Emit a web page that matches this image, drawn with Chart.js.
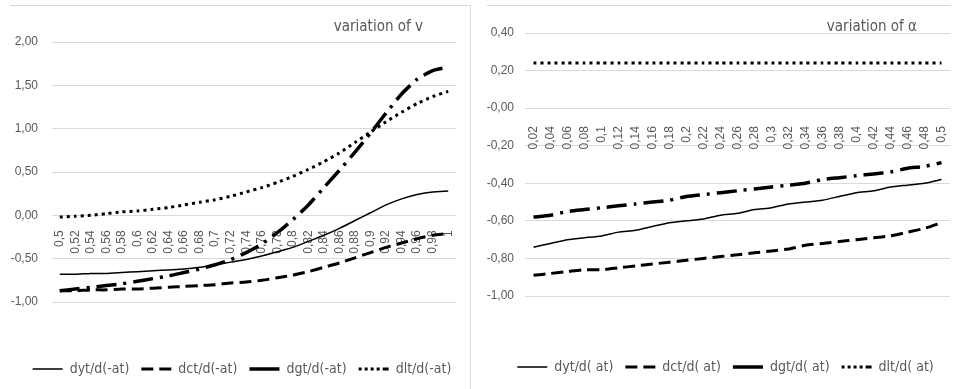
<!DOCTYPE html>
<html>
<head>
<meta charset="utf-8">
<script src="https://cdn.jsdelivr.net/npm/chart.js@4"></script>
<style>
  body { margin: 0; background: #fff; width: 954px; height: 389px; overflow: hidden; position: relative; }
  .frame { position: absolute; border-top: 1px solid #d9d9d9; }
  canvas { position: absolute; top: 0; }
</style>
</head>
<body>
<div class="frame" style="left:10px; top:5px; width:460px; height:384px; border-right:1px solid #d9d9d9;"></div>
<div class="frame" style="left:487px; top:5px; width:464px; height:384px;"></div>
<canvas id="chartV" width="477" height="389" style="left:0"></canvas>
<canvas id="chartA" width="477" height="389" style="left:477px"></canvas>
<script>
// left chart: variation of v
let vLabels = ["0,5","0,52","0,54","0,56","0,58","0,6","0,62","0,64","0,66","0,68","0,7","0,72","0,74",
               "0,76","0,78","0,8","0,82","0,84","0,86","0,88","0,9","0,92","0,94","0,96","0,98","1"];
let vDyt = [-0.68,-0.68,-0.67,-0.67,-0.66,-0.65,-0.64,-0.63,-0.62,-0.60,-0.57,-0.54,-0.51,
            -0.47,-0.42,-0.37,-0.30,-0.23,-0.15,-0.06,0.03,0.12,0.19,0.24,0.27,0.28];
let vDct = [-0.87,-0.87,-0.86,-0.86,-0.85,-0.85,-0.84,-0.83,-0.82,-0.81,-0.80,-0.78,-0.77,
            -0.75,-0.72,-0.69,-0.65,-0.60,-0.55,-0.49,-0.43,-0.37,-0.32,-0.27,-0.23,-0.21];
let vDgt = [-0.87,-0.85,-0.83,-0.81,-0.79,-0.76,-0.73,-0.70,-0.66,-0.62,-0.57,-0.51,-0.43,
            -0.33,-0.20,-0.05,0.12,0.32,0.52,0.73,0.95,1.18,1.40,1.57,1.67,1.71];
let vDlt = [-0.02,-0.01,0.00,0.02,0.04,0.05,0.07,0.09,0.12,0.15,0.18,0.22,0.27,
            0.32,0.38,0.45,0.53,0.62,0.72,0.84,0.96,1.08,1.19,1.29,1.37,1.43];
let vNames = ["dyt/d(-at)", "dct/d(-at)", "dgt/d(-at)", "dlt/d(-at)"];

// right chart: variation of alpha
let aLabels = ["0,02","0,04","0,06","0,08","0,1","0,12","0,14","0,16","0,18","0,2","0,22","0,24","0,26",
               "0,28","0,3","0,32","0,34","0,36","0,38","0,4","0,42","0,44","0,46","0,48","0,5"];
let aDyt = [-0.74,-0.72,-0.70,-0.69,-0.68,-0.66,-0.65,-0.63,-0.61,-0.60,-0.59,-0.57,-0.56,
            -0.54,-0.53,-0.51,-0.50,-0.49,-0.47,-0.45,-0.44,-0.42,-0.41,-0.40,-0.38];
let aDct = [-0.89,-0.88,-0.87,-0.86,-0.86,-0.85,-0.84,-0.83,-0.82,-0.81,-0.80,-0.79,-0.78,
            -0.77,-0.76,-0.75,-0.73,-0.72,-0.71,-0.70,-0.69,-0.68,-0.66,-0.64,-0.61];
let aDgt = [-0.58,-0.57,-0.55,-0.54,-0.53,-0.52,-0.51,-0.50,-0.49,-0.47,-0.46,-0.45,-0.44,
            -0.43,-0.42,-0.41,-0.40,-0.38,-0.37,-0.36,-0.35,-0.34,-0.32,-0.31,-0.29];
let aDlt = [0.24,0.24,0.24,0.24,0.24,0.24,0.24,0.24,0.24,0.24,0.24,0.24,0.24,
            0.24,0.24,0.24,0.24,0.24,0.24,0.24,0.24,0.24,0.24,0.24,0.24];
let aNames = ["dyt/d( at)", "dct/d( at)", "dgt/d( at)", "dlt/d( at)"];

const NARROW = "'Liberation Sans Narrow', 'DejaVu Sans Condensed', sans-serif";
const TICKFONT = "'Liberation Sans', Arial, sans-serif";
const GREY = "#595959";

// line styles: solid, dashed, dash-dot, dotted
let lineWidths = [1.5, 3, 3.5, 3];
let lineDashes = [[], [12, 6], [20, 7, 3, 7], [3, 4]];
// legend samples are stroked as a flat rect (there and back), so pattern covers 30px then stays off
let legendDashes = [[], [12, 6, 12, 30], [], [3, 3, 3, 3, 3, 3, 3, 3, 3, 3, 3, 33]];

function makeDatasets(names, series) {
    return names.map((n, i) => ({
        label: n,
        data: series[i],
        borderColor: "#000",
        backgroundColor: "#000",
        borderWidth: lineWidths[i],
        borderDash: lineDashes[i],
        borderCapStyle: "butt",
        pointRadius: 0,
        tension: 0.2,
        fill: false
    }));
}

// title text near the top right of the plot, legend nudged sideways
function extrasPlugin(text, dx, y, legendShift) {
    return {
        id: "extras",
        afterLayout(chart) {
            chart.legend.left += legendShift;
            chart.legend.right += legendShift;
        },
        afterDraw(chart) {
            let c = chart.ctx;
            c.save();
            c.font = "15px " + NARROW;
            c.fillStyle = GREY;
            c.textAlign = "right";
            c.textBaseline = "middle";
            c.fillText(text, chart.chartArea.right - dx, y);
            c.restore();
        }
    };
}

function makeChart(id, labels, datasets, yMin, yMax, step, yWidth, tickPad, xPad, top, right, gap, padBottom, title, legendShift) {
    return new Chart(document.getElementById(id).getContext("2d"), {
        type: "line",
        data: { labels: labels, datasets: datasets },
        plugins: [extrasPlugin(title, 33, 27, legendShift)],
        options: {
            responsive: false,
            maintainAspectRatio: false,
            animation: false,
            layout: { padding: { top: top, right: right, bottom: padBottom, left: 0 } },
            plugins: {
                title: { display: false },
                tooltip: { enabled: false },
                legend: {
                    position: "bottom",
                    labels: {
                        boxWidth: 30,
                        boxHeight: 0,
                        padding: 12,
                        color: GREY,
                        font: { size: 14, family: NARROW },
                        generateLabels: chart => {
                            let items = Chart.defaults.plugins.legend.labels.generateLabels(chart);
                            items.forEach((it, i) => { it.lineDash = legendDashes[i]; });
                            return items;
                        }
                    }
                }
            },
            scales: {
                x: {
                    position: { y: 0 },
                    offset: true,
                    grid: { display: false },
                    border: { display: false },
                    afterFit: s => { s.paddingLeft = 0; s.paddingRight = 0; },
                    ticks: {
                        autoSkip: false,
                        minRotation: 90,
                        maxRotation: 90,
                        padding: xPad,
                        color: GREY,
                        font: { size: 12, family: TICKFONT }
                    }
                },
                spacer: {
                    type: "category",
                    position: "bottom",
                    grid: { display: false },
                    border: { display: false },
                    ticks: { display: false },
                    afterFit: s => { s.height = gap; }
                },
                y: {
                    min: yMin,
                    max: yMax,
                    grid: { color: "#d9d9d9", drawTicks: false, lineWidth: 1 },
                    border: { display: false },
                    afterFit: s => { s.width = yWidth; },
                    ticks: {
                        stepSize: step,
                        padding: tickPad,
                        color: GREY,
                        font: { size: 12, family: TICKFONT },
                        callback: v => v.toFixed(2).replace(".", ",")
                    }
                }
            }
        }
    });
}

makeChart("chartV", vLabels, makeDatasets(vNames, [vDyt, vDct, vDgt, vDlt]),
          -1, 2, 0.5, 52, 14, 7, 42, 21, 48, 3, "variation of v", 14);
makeChart("chartA", aLabels, makeDatasets(aNames, [aDyt, aDct, aDgt, aDlt]),
          -1, 0.4, 0.2, 48, 11, 10, 33, 4, 52, 5, "variation of \u03b1", 12);
</script>
</body>
</html>
